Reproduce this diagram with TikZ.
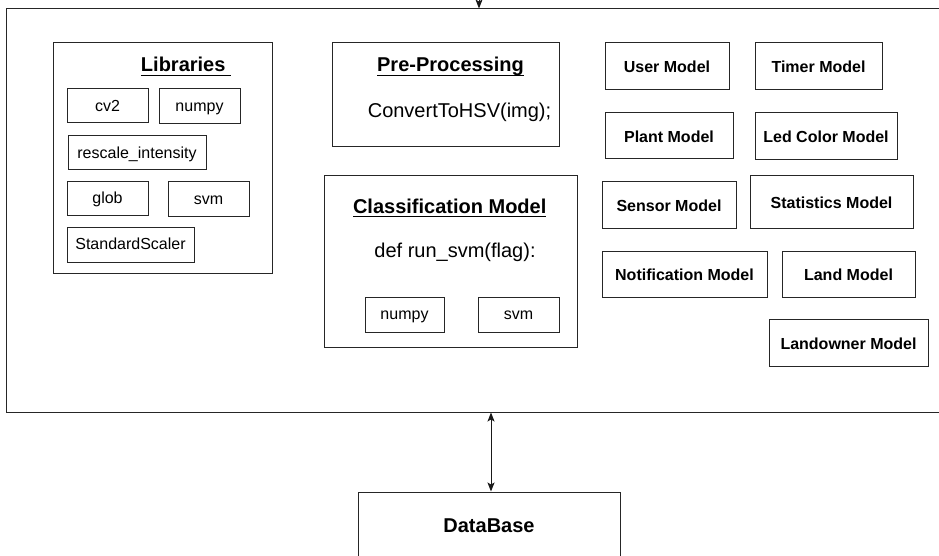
\documentclass[tikz,border=0pt]{standalone}
\usepackage{fontspec}
\setmainfont{Liberation Sans}
\usetikzlibrary{arrows.meta}

% underline at a fixed depth below the baseline
\newcommand\ulinetext[1]{\setbox0=\hbox{#1}\rlap{\rule[-4.5pt]{\wd0}{1.2pt}}\box0}

\tikzset{
  box/.style={draw=black!85, line width=1pt, rectangle, inner sep=0pt, text=black},
  small/.style={font=\fontsize{16}{19}\selectfont, text height=15pt, text depth=4.5pt},
  model/.style={box, font=\fontsize{16}{19}\selectfont\bfseries, text height=17pt, text depth=4pt},
  title/.style={inner sep=0pt, font=\fontsize{20}{24}\selectfont\bfseries, anchor=base},
  body/.style={inner sep=0pt, font=\fontsize{20}{24}\selectfont, anchor=base},
  tip/.style={line width=1pt, draw=black!90},
}

\begin{document}
\begin{tikzpicture}[x=1pt, y=-1pt]
\useasboundingbox (0,0) rectangle (939,556);

% application container (right side runs past the page)
\node[box] (app) at (476,210.5) [minimum width=940pt, minimum height=403pt] {};

% Libraries
\node[box] (libs) at (162.5,158) [minimum width=219pt, minimum height=230pt] {};
\node[title] (libsT) at (186,71.5) {\ulinetext{Libraries\ }};
\node[box, small] (cv2) at (107.5,106) [minimum width=81pt, minimum height=34pt] {cv2};
\node[box, small] (np1) at (199.5,106.5) [minimum width=81pt, minimum height=35pt] {numpy};
\node[box, small] (resc) at (137,153) [minimum width=138pt, minimum height=34pt] {rescale\_intensity};
\node[box, small] (glob) at (107.5,198.5) [minimum width=81pt, minimum height=33pt] {glob};
\node[box, small] (svm1) at (208.5,199) [minimum width=81pt, minimum height=34pt] {svm};
\node[box, small] (scal) at (130.5,244.5) [minimum width=127pt, minimum height=35pt] {StandardScaler};

% Pre-Processing
\node[box] (pre) at (445.5,95) [minimum width=227pt, minimum height=104pt] {};
\node[title] (preT) at (450.5,71.5) {\ulinetext{Pre-Processing}};
\node[body] (preB) at (459.5,118) {ConvertToHSV(img);};

% Classification Model
\node[box] (cls) at (450.5,261.5) [minimum width=253pt, minimum height=171pt] {};
\node[title] (clsT) at (449.7,213) {\ulinetext{Classification Model}};
\node[body] (clsB) at (455,257.5) {def run\_svm(flag):};
\node[box, small] (np2) at (404.5,314.5) [minimum width=79pt, minimum height=35pt] {numpy};
\node[box, small] (svm2) at (518.5,314.5) [minimum width=81pt, minimum height=35pt] {svm};

% Models
\node[model] (user) at (667,66.5) [minimum width=124pt, minimum height=47pt] {User Model};
\node[model] (timer) at (818.5,66.5) [minimum width=127pt, minimum height=47pt] {Timer Model};
\node[model] (plant) at (669,136) [minimum width=128pt, minimum height=46pt] {Plant Model};
\node[model] (led) at (826,136.5) [minimum width=142pt, minimum height=47pt] {Led Color Model};
\node[model] (sensor) at (669,205) [minimum width=134pt, minimum height=46pt] {Sensor Model};
\node[model] (stats) at (831.5,202) [minimum width=163pt, minimum height=52pt] {Statistics Model};
\node[model] (notif) at (684.5,274) [minimum width=165pt, minimum height=46pt] {Notification Model};
\node[model] (land) at (848.5,274) [minimum width=133pt, minimum height=46pt] {Land Model};
\node[model] (owner) at (848.5,342.5) [minimum width=159pt, minimum height=47pt] {Landowner Model};

% DataBase (lower edge runs past the page)
\node[box, font=\fontsize{20}{24}\selectfont\bfseries, text height=15.5pt, text depth=4pt] (db) at (489,527) [minimum width=262pt, minimum height=70pt] {DataBase};

% connectors
\coordinate (src) at (479,-30);
\draw[tip, -{Stealth[length=9pt, width=7pt, inset=2pt]}] (src) -- (src |- app.north);
\draw[tip, {Stealth[length=9pt, width=7pt, inset=2pt]}-{Stealth[length=9pt, width=7pt, inset=2pt]}]
  ([xshift=2pt]db.north |- app.south) -- ([xshift=2pt]db.north);
\end{tikzpicture}
\end{document}
